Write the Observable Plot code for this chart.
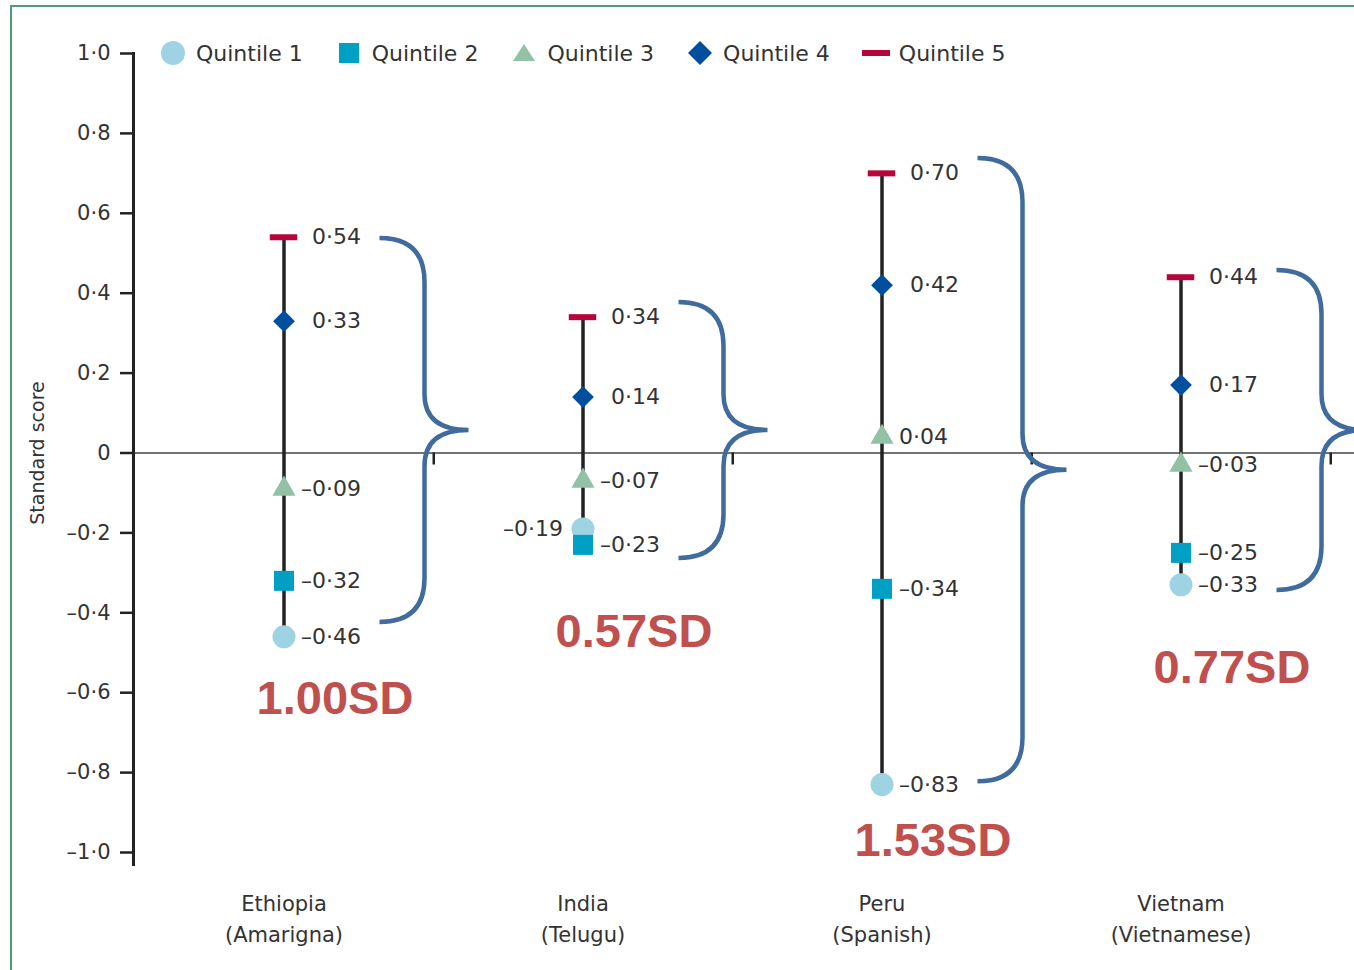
<!DOCTYPE html>
<html>
<head>
<meta charset="utf-8">
<script src="https://cdn.jsdelivr.net/npm/d3@7"></script>
<script src="https://cdn.jsdelivr.net/npm/@observablehq/plot@0.6"></script>
<style>
  html, body { margin: 0; padding: 0; background: #fff; overflow: hidden; width: 1354px; height: 970px; }
  #wrap { position: relative; width: 1354px; height: 970px; }
  #border { position: absolute; left: 10px; top: 5px; width: 3000px; height: 3000px; border-left: 2px solid #4f9d75; border-top: 2px solid #4f9d75; }
  #chart { position: absolute; left: 0; top: 0; }
  .legend { position: absolute; left: 159px; top: 40px; display: flex; align-items: center; height: 26px;
            font-family: 'DejaVu Sans', sans-serif; font-size: 22px; color: #333; }
  .legend .item { display: flex; align-items: center; margin-right: 32px; }
  .legend svg { margin-right: 9px; }
</style>
</head>
<body>
<div id="wrap"><div id="border"></div><div id="chart"></div></div>
<script>
// ---- data ----
const countries = ["Ethiopia", "India", "Peru", "Vietnam"];
const languages = ["Amarigna", "Telugu", "Spanish", "Vietnamese"];
const quintiles = ["Quintile 1", "Quintile 2", "Quintile 3", "Quintile 4", "Quintile 5"];
const quintile1 = [-0.46, -0.19, -0.83, -0.33];
const quintile2 = [-0.32, -0.23, -0.34, -0.25];
const quintile3 = [-0.09, -0.07, 0.04, -0.03];
const quintile4 = [0.33, 0.14, 0.42, 0.17];
const quintile5 = [0.54, 0.34, 0.70, 0.44];
const braceTop = [0.537, 0.377, 0.737, 0.457];
const braceBottom = [-0.424, -0.264, -0.823, -0.344];
const gapLabelY = [-0.615, -0.447, -0.97, -0.537];
const yTicks = [1, 0.8, 0.6, 0.4, 0.2, 0, -0.2, -0.4, -0.6, -0.8, -1];

const quintileValues = [quintile1, quintile2, quintile3, quintile4, quintile5];
const colors = ["#9dd3e3", "#00a0c4", "#92c1a6", "#004f9f", "#b5053b"];
const symbols = ["circle", "square", "triangle", "diamond2"];
const radii = [11.5, 11.3, 8.6, 9.8];

const points = countries.flatMap((c, i) =>
  quintileValues.map((vals, q) => ({country: c, q, quintile: quintiles[q], value: vals[i]})));
const ranges = countries.map((c, i) => {
  const vals = quintileValues.map(v => v[i]);
  return {country: c, min: d3.min(vals), max: d3.max(vals),
          bTop: braceTop[i], bBottom: braceBottom[i], labelY: gapLabelY[i]};
});

const W = 1354, H = 970, mL = 133, mR = 23, mT = 53, mB = 118;
const bw = (W - mL - mR) / countries.length;
const FONT = "'DejaVu Sans', sans-serif";

const fmtTick = d => d === 0 ? "0" : (d < 0 ? "–" : "") + Math.abs(d).toFixed(1).replace(".", "·");
const fmtVal = d => (d < 0 ? "–" : "") + Math.abs(d).toFixed(2).replace(".", "·");

const isLeftLabel = d => d.country === "India" && d.q === 0;

const braceRender = (index, scales, values, dimensions, context) => {
  const g = d3.create("svg:g");
  const xs = scales.x;
  const band = typeof xs.bandwidth === "function" ? xs.bandwidth() : (xs.bandwidth || 0);
  for (const i of index) {
    const r = ranges[i];
    const c = xs(r.country) + band / 2;
    const yt = scales.y(r.bTop), yb = scales.y(r.bBottom), ym = (yt + yb) / 2;
    const x0 = c + 96, x1 = c + 141, xt = c + 185;
    const rr = 44, r2 = 36;
    const d = `M${x0},${yt} Q${x1},${yt} ${x1},${yt + rr} L${x1},${ym - r2} Q${x1},${ym} ${xt},${ym}` +
              ` Q${x1},${ym} ${x1},${ym + r2} L${x1},${yb - rr} Q${x1},${yb} ${x0},${yb}`;
    g.append("path").attr("d", d).attr("fill", "none").attr("stroke", "#3f6b9d").attr("stroke-width", 4.5);
  }
  return g.node();
};

const labelOpts = {x: "country", y: "value", text: d => fmtVal(d.value), fontSize: 22, fill: "#333"};

const marks = [
  Plot.ruleY([0], {stroke: "#444", strokeWidth: 1.6, insetRight: -mR}),
  Plot.ruleX(countries, {x: d => d, y1: 0, y2: -0.03, dx: bw / 2, stroke: "#222", strokeWidth: 2.5}),
  Plot.frame({anchor: "left", stroke: "#222", strokeWidth: 3, insetBottom: -12}),
  Plot.axisY({ticks: yTicks, tickSize: 13, tickPadding: 10, tickFormat: fmtTick, fontSize: 21,
              stroke: "#222", strokeWidth: 2.5, label: null}),
  Plot.axisX({tickSize: 0, tickPadding: 36, fontSize: 21, lineHeight: 1.48, label: null,
              tickFormat: d => d + "\n(" + languages[countries.indexOf(d)] + ")"}),
  Plot.text(["Standard score"], {frameAnchor: "left", textAnchor: "middle", rotate: -90, dx: -96, fontSize: 19}),
  Plot.ruleX(ranges, {x: "country", y1: "min", y2: "max", stroke: "#222", strokeWidth: 3.5}),
  Plot.tickY(points.filter(d => d.q === 4), {x: "country", y: "value", stroke: colors[4], strokeWidth: 6,
              insetLeft: (bw - 28) / 2, insetRight: (bw - 28) / 2}),
  ...symbols.map((s, q) => Plot.dot(points.filter(d => d.q === q),
              {x: "country", y: "value", symbol: () => s, fill: colors[q], r: radii[q], stroke: "none"})),
  Plot.text(points.filter(d => !isLeftLabel(d) && d.q >= 3), {...labelOpts, textAnchor: "start", dx: 28}),
  Plot.text(points.filter(d => !isLeftLabel(d) && d.q < 3), {...labelOpts, textAnchor: "start", dx: 17}),
  Plot.text(points.filter(isLeftLabel), {...labelOpts, textAnchor: "end", dx: -20}),
  Plot.ruleX(ranges, {x: "country", y1: "bTop", y2: "bBottom", render: braceRender}),
  Plot.text(ranges, {x: "country", y: "labelY", text: d => (d.max - d.min).toFixed(2) + "SD", dx: 51,
              fontSize: 47, fontWeight: "bold", fontFamily: "'Liberation Sans', Arial, sans-serif", fill: "#c0504d"})
];

const chart = Plot.plot({
  width: W, height: H,
  marginTop: mT, marginBottom: mB, marginLeft: mL, marginRight: mR,
  x: {type: "band", domain: countries, padding: 0, axis: null},
  y: {domain: [-1, 1], axis: null},
  symbol: {type: "identity"},
  style: {fontFamily: FONT, fontSize: "21px", color: "#333", background: "transparent", overflow: "visible"},
  marks
});
document.getElementById("chart").appendChild(chart);

// legend
const legend = d3.select("#wrap").append("div").attr("class", "legend");
quintiles.forEach((q, i) => {
  const item = legend.append("div").attr("class", "item");
  const s = item.append("svg").attr("width", 28).attr("height", 26);
  if (i === 0) s.append("circle").attr("cx", 14).attr("cy", 13).attr("r", 12).attr("fill", colors[i]);
  if (i === 1) s.append("rect").attr("x", 4).attr("y", 3).attr("width", 20).attr("height", 20).attr("fill", colors[i]);
  if (i === 2) s.append("polygon").attr("points", "14,4 25,21 3,21").attr("fill", colors[i]);
  if (i === 3) s.append("polygon").attr("points", "14,1 26,13 14,25 2,13").attr("fill", colors[i]);
  if (i === 4) s.append("rect").attr("x", 0).attr("y", 10).attr("width", 28).attr("height", 6).attr("fill", colors[i]);
  item.append("span").text(q);
});
</script>
</body>
</html>
